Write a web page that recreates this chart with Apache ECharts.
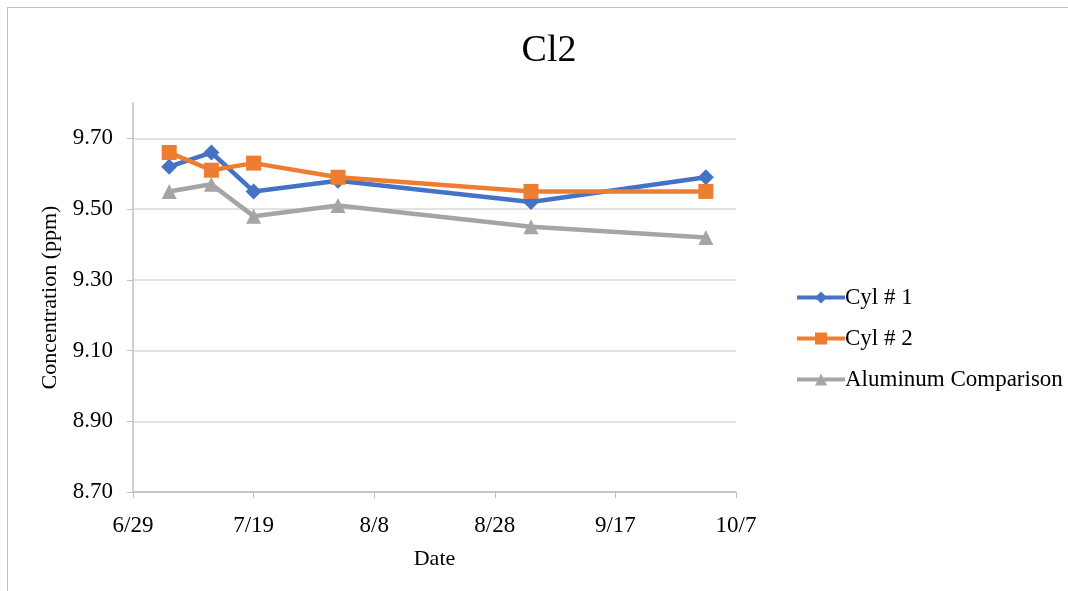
<!DOCTYPE html>
<html>
<head>
<meta charset="utf-8">
<script src="https://cdn.jsdelivr.net/npm/echarts@6/dist/echarts.min.js"></script>
<style>
  html, body { margin: 0; padding: 0; background: #fff; }
  #frame { position: absolute; left: 7px; top: 7px; width: 1100px; height: 600px;
           border-top: 1px solid #bfbfbf; border-left: 1px solid #bfbfbf; }
  #chart { position: absolute; left: 0; top: 0; width: 1068px; height: 591px; }
</style>
</head>
<body>
<div id="frame"></div>
<div id="chart"></div>
<script>
const title = 'Cl2';
const dates = ['7/5', '7/12', '7/19', '8/2', '9/3', '10/2'];
const cyl1 = [9.62, 9.66, 9.55, 9.58, 9.52, 9.59];
const cyl2 = [9.66, 9.61, 9.63, 9.59, 9.55, 9.55];
const aluminum = [9.55, 9.57, 9.48, 9.51, 9.45, 9.42];
const xTickLabels = ['6/29', '7/19', '8/8', '8/28', '9/17', '10/7'];
const startDate = '6/29';
const YEAR = 2019;

function dayOffset(md) {
  const [m, d] = md.split('/').map(Number);
  const [m0, d0] = startDate.split('/').map(Number);
  return Math.round((Date.UTC(YEAR, m - 1, d) - Date.UTC(YEAR, m0 - 1, d0)) / 86400000);
}
const xs = dates.map(dayOffset);
const pts = arr => arr.map((v, i) => [xs[i], v]);

const font = 'Liberation Serif';
const chart = echarts.init(document.getElementById('chart'));
chart.setOption({
  animation: false,
  title: {
    text: title, left: 544, top: 27, textAlign: 'center',
    textStyle: { fontFamily: font, fontSize: 38, fontWeight: 'normal', color: '#000' }
  },
  grid: { left: 133, right: 332, top: 103, bottom: 99 },
  legend: {
    orient: 'vertical', left: 790, top: 281, itemGap: 18, itemWidth: 48, itemHeight: 15,
    lineStyle: { width: 4 },
    textStyle: { fontFamily: font, fontSize: 23, lineHeight: 23, color: '#000', padding: [0, 0, 0, -5] },
    data: ['Cyl # 1', 'Cyl # 2', 'Aluminum Comparison']
  },
  xAxis: {
    type: 'value', min: 0, max: 100, interval: 20,
    name: 'Date', nameLocation: 'middle', nameGap: 56,
    nameTextStyle: { fontFamily: font, fontSize: 22, color: '#000' },
    axisLine: { lineStyle: { color: '#bfbfbf', width: 1.5 } },
    axisTick: { show: true, length: 6, lineStyle: { color: '#bfbfbf' } },
    axisLabel: { margin: 22, fontFamily: font, fontSize: 23, color: '#000',
      formatter: v => xTickLabels[Math.round(v / 20)] },
    splitLine: { show: false }
  },
  yAxis: {
    type: 'value', min: 8.7, max: 9.8, interval: 0.2,
    name: 'Concentration (ppm)', nameLocation: 'middle', nameGap: 72,
    nameTextStyle: { fontFamily: font, fontSize: 22, color: '#000' },
    axisLine: { show: true, lineStyle: { color: '#bfbfbf', width: 1.5 } },
    axisTick: { show: true, length: 6, lineStyle: { color: '#bfbfbf' } },
    axisLabel: { margin: 20, fontFamily: font, fontSize: 23, color: '#000',
      showMaxLabel: false, formatter: v => v.toFixed(2) },
    splitLine: { show: true, showMaxLine: false,
      lineStyle: { color: ['#d9d9d9', '#d9d9d9', '#d9d9d9', '#d9d9d9', '#d9d9d9', '#d9d9d9', 'rgba(0,0,0,0)'], width: 1.5 } }
  },
  series: [
    { name: 'Cyl # 1', type: 'line', data: pts(cyl1), symbol: 'diamond', symbolSize: 16,
      itemStyle: { color: '#4472C4' }, lineStyle: { width: 4.5, color: '#4472C4' }, z: 3 },
    { name: 'Cyl # 2', type: 'line', data: pts(cyl2), symbol: 'rect', symbolSize: 15,
      itemStyle: { color: '#ED7D31' }, lineStyle: { width: 4.5, color: '#ED7D31' }, z: 4 },
    { name: 'Aluminum Comparison', type: 'line', data: pts(aluminum), symbol: 'triangle', symbolSize: 15,
      itemStyle: { color: '#A5A5A5' }, lineStyle: { width: 4.5, color: '#A5A5A5' }, z: 2 }
  ]
});
</script>
</body>
</html>
